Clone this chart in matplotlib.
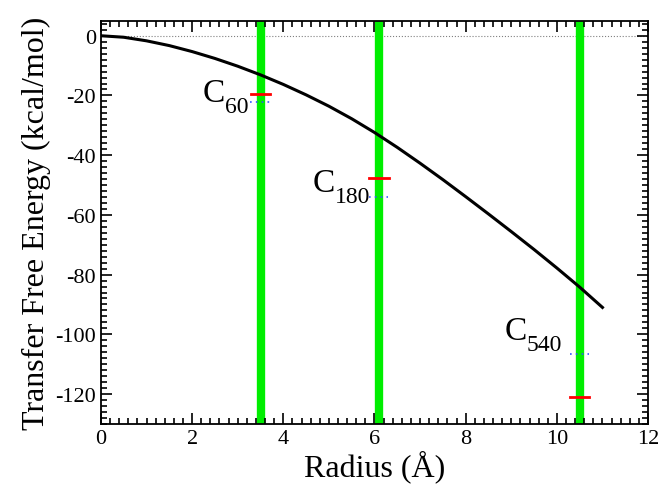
import numpy as np
import matplotlib
matplotlib.use("Agg")
import matplotlib.pyplot as plt
from matplotlib.ticker import MultipleLocator

plt.rcParams['font.family'] = ['Liberation Serif', 'DejaVu Serif']
plt.rcParams['axes.unicode_minus'] = False

# continuum transfer free energy curve
radius = [0, 0.5, 1, 1.5, 2, 2.5, 3, 3.5, 4, 4.5, 5, 5.5, 6, 6.5, 7, 7.5,
          8, 8.5, 9, 9.5, 10, 10.5, 11]
energy = [0, -0.5, -1.7, -3.3, -5.3, -7.6, -10.2, -13.1, -16.3, -19.8, -23.6,
          -27.8, -32.4, -37.4, -42.7, -48.2, -53.9, -59.7, -65.6, -71.6,
          -77.8, -84.2, -91.0]

# fullerenes
subs = ['60', '180', '540']
r_full = [3.5, 6.1, 10.5]
red_vals = [-19.6, -47.8, -121.0]
blue_vals = [-22.1, -53.9, -106.6]
label_x = [2.24, 4.64, 8.85]
label_y = [-22.0, -51.9, -101.6]

fig = plt.figure(figsize=(6.64, 4.85), dpi=100)
ax = fig.add_axes([0.152, 0.124, 0.824, 0.831])

ax.axhline(0, color='gray', lw=0.8, ls=':', zorder=1)
for r in r_full:
    ax.axvline(r, color='#00ee00', lw=6, zorder=1)

ax.plot(radius, energy, color='black', lw=2.2, zorder=3)

for r, rv, bv, sb, lx, ly in zip(r_full, red_vals, blue_vals, subs, label_x, label_y):
    ax.plot([r - 0.21, r + 0.21], [rv, rv], color='red', lw=2, zorder=4)
    ax.plot([r - 0.22, r + 0.2], [bv, bv], color='#3355ff', lw=1.2, ls=(0, (1, 2.5)), zorder=4)
    ax.text(lx, ly, 'C', fontsize=24, ha='left', va='baseline')
    ax.annotate(sb, (lx, ly), xytext=(22, -11), textcoords='offset pixels',
                fontsize=17, ha='left', va='baseline')

ax.set_xlim(0, 12)
ax.set_ylim(-130, 5)
ax.xaxis.set_major_locator(MultipleLocator(2))
ax.xaxis.set_minor_locator(MultipleLocator(0.2))
ax.yaxis.set_major_locator(MultipleLocator(20))
ax.yaxis.set_minor_locator(MultipleLocator(2))
ax.tick_params(which='both', direction='in', top=True, right=True, width=1.2)
ax.tick_params(which='major', length=8, labelsize=16)
ax.tick_params(which='minor', length=4)
for s in ax.spines.values():
    s.set_linewidth(1.3)

ax.set_xlabel('Radius (Å)', fontsize=23, labelpad=1)
ax.set_ylabel('Transfer Free Energy (kcal/mol)', fontsize=23, labelpad=3)

fig.savefig('out.png', dpi=100)
